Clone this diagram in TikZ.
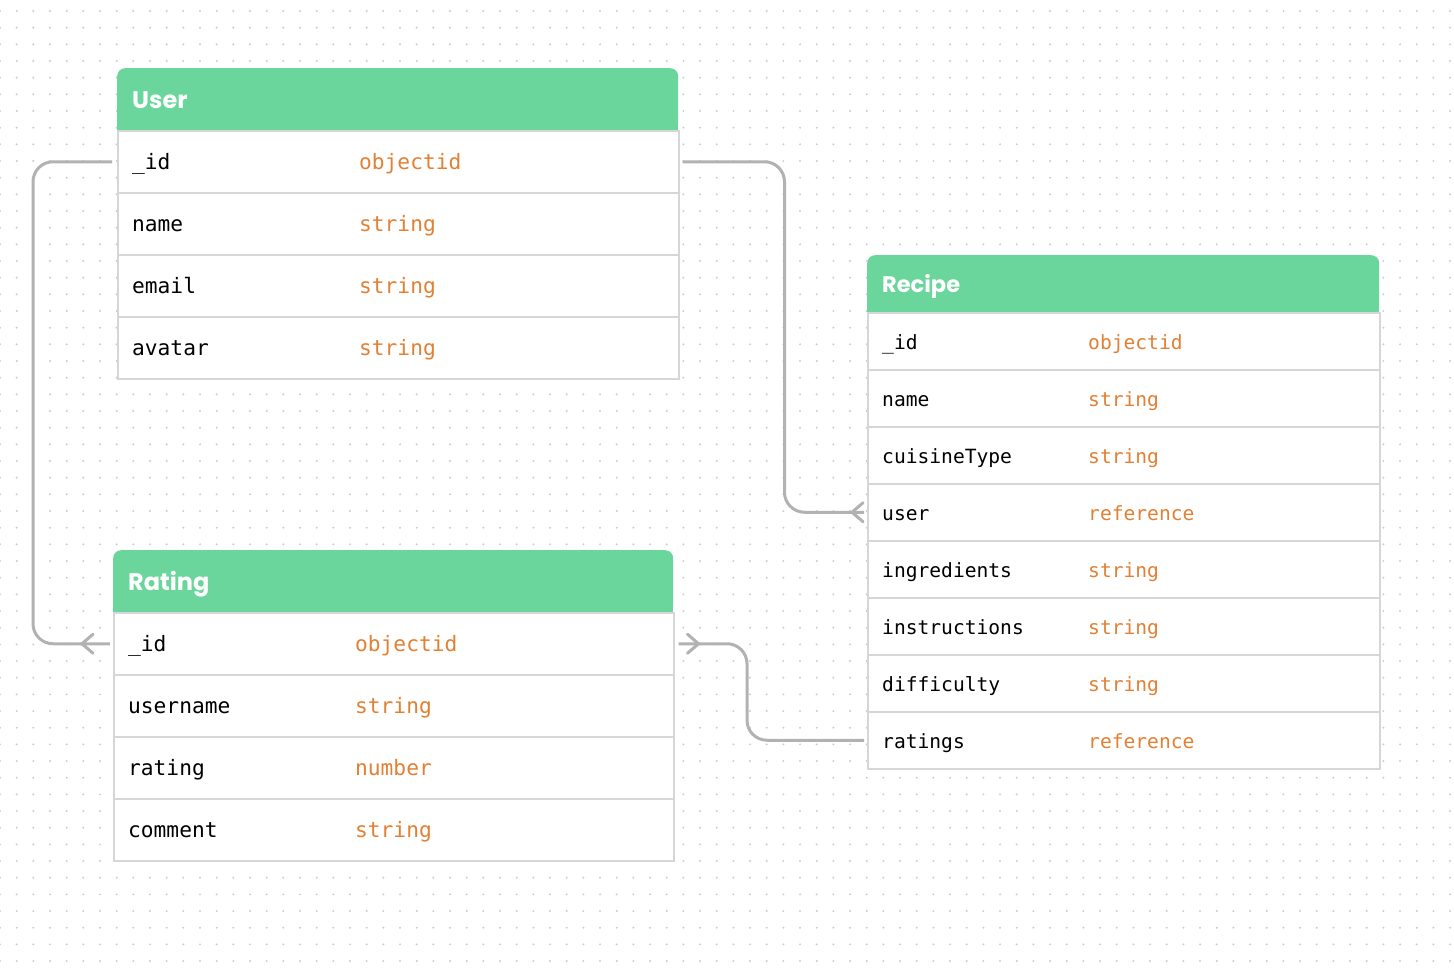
\documentclass[tikz,border=0pt]{standalone}
\usepackage{fontspec}
\setmonofont{DejaVu Sans Mono}
\newfontfamily\hdrfont{Poppins}
\usetikzlibrary{decorations.markings}

\definecolor{hdrgreen}{RGB}{107,214,156}
\definecolor{typeorange}{RGB}{226,128,52}
\definecolor{rowgray}{RGB}{214,214,214}
\definecolor{conngray}{RGB}{178,178,178}
\definecolor{dotgray}{RGB}{204,204,204}

\tikzset{
  hdrbox/.style={fill=hdrgreen, rounded corners=8pt, anchor=north west, inner sep=0pt},
  rowbox/.style={draw=rowgray, line width=1.5pt, fill=white, anchor=north west, inner sep=0pt},
  titletext/.style={anchor=west, inner sep=0pt, text=white, text height=18pt, text depth=0pt,
    font=\hdrfont\bfseries\fontsize{#1}{#1}\selectfont},
  titletext/.default=24,
  fieldtext/.style={anchor=west, inner sep=0pt, text height=19pt, text depth=3pt,
    font=\ttfamily\fontsize{#1}{#1}\selectfont},
  fieldtext/.default=21.2,
  typetext/.style={fieldtext=#1, text=typeorange},
  typetext/.default=21.2,
  conn/.style={draw=conngray, line width=3pt, rounded corners=20pt},
  crow/.style={postaction={decorate, decoration={markings, mark=at position 1 with
    {\draw[conngray, line width=3pt, sharp corners, line cap=round, line join=round]
      (-#1pt+11pt,9.5pt) -- (-#1pt,0pt) -- (-#1pt+11pt,-9.5pt);}}}}
}

\begin{document}
\begin{tikzpicture}[x=1pt,y=-1pt]

\useasboundingbox (0,0) rectangle (1454,974);
\fill[white] (0,0) rectangle (1454,974);

% dotted background
\foreach \dx in {0,...,87}
  \foreach \dy in {0,...,58}
    \fill[dotgray] ({16.667*\dx},{11+16.667*\dy}) circle (1.1pt);

% User table
\node[hdrbox, minimum width=561pt, minimum height=62pt] (user) at (117,68) {};
\fill[hdrgreen] ([yshift=10pt]user.south west) rectangle (user.south east);
\node[titletext] (user-title) at ([xshift=15pt]user.west) {User};
\foreach \fld/\typ [count=\i from 0] in {\_id/objectid, name/string, email/string, avatar/string}{
  \node[rowbox, minimum width=561pt, minimum height=62pt] (user-\i) at (117,{130+62*\i}) {};
  \node[fieldtext] (user-\i-f) at ([xshift=15pt]user-\i.west) {\fld};
  \node[typetext] (user-\i-t) at ([xshift=242pt]user-\i.west) {\typ};
}

% Recipe table
\node[hdrbox, minimum width=512pt, minimum height=57pt] (recipe) at (867,255) {};
\fill[hdrgreen] ([yshift=10pt]recipe.south west) rectangle (recipe.south east);
\node[titletext=22.5] (recipe-title) at ([xshift=15pt]recipe.west) {Recipe};
\foreach \fld/\typ [count=\i from 0] in {\_id/objectid, name/string, cuisineType/string,
    user/reference, ingredients/string, instructions/string, difficulty/string, ratings/reference}{
  \node[rowbox, minimum width=512pt, minimum height=57pt] (recipe-\i) at (867,{312+57*\i}) {};
  \node[fieldtext=19.6] (recipe-\i-f) at ([xshift=15pt]recipe-\i.west) {\fld};
  \node[typetext=19.6] (recipe-\i-t) at ([xshift=221pt]recipe-\i.west) {\typ};
}

% Rating table
\node[hdrbox, minimum width=560pt, minimum height=62pt] (rate) at (113,550) {};
\fill[hdrgreen] ([yshift=10pt]rate.south west) rectangle (rate.south east);
\node[titletext] (rate-title) at ([xshift=15pt]rate.west) {Rating};
\foreach \fld/\typ [count=\i from 0] in {\_id/objectid, username/string, rating/number, comment/string}{
  \node[rowbox, minimum width=560pt, minimum height=62pt] (rate-\i) at (113,{612+62*\i}) {};
  \node[fieldtext] (rate-\i-f) at ([xshift=15pt]rate-\i.west) {\fld};
  \node[typetext] (rate-\i-t) at ([xshift=242pt]rate-\i.west) {\typ};
}

% connectors
\draw[conn, crow=28] ([xshift=-5pt]user-0.west) -- ++(-79,0) |- ([xshift=-3pt]rate-0.west);
\draw[conn, crow=12] ([xshift=3pt]user-0.east) -- ++(102,0) |- ([xshift=-3pt]recipe-3.west);
\draw[conn, crow=20] ([xshift=-3pt]recipe-7.west) -- ++(-117,0) |- ([xshift=4pt]rate-0.east);

\end{tikzpicture}
\end{document}
